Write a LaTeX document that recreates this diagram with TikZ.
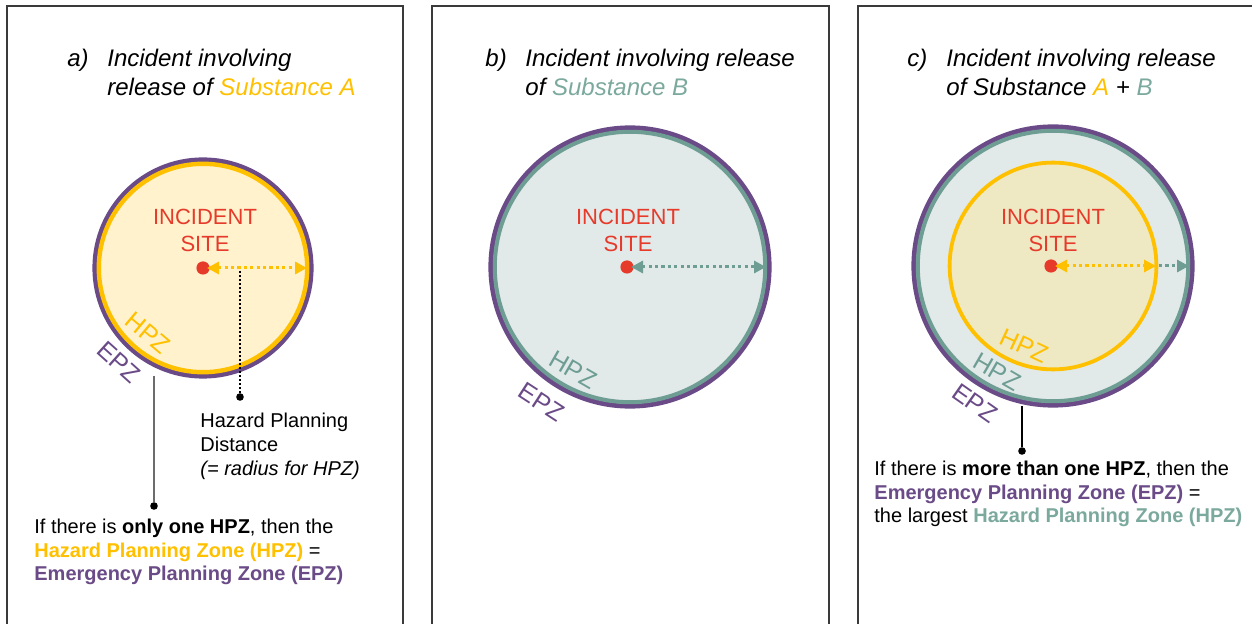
\documentclass[tikz,border=0pt]{standalone}
\usepackage{fontspec}
\setmainfont{Liberation Sans}
\usetikzlibrary{arrows.meta}
\definecolor{epz}{HTML}{6A4B87}
\definecolor{hpzA}{HTML}{FFC000}
\definecolor{hpzB}{HTML}{6E9D93}
\definecolor{txtB}{HTML}{7BA99D}
\definecolor{site}{HTML}{E63A2B}
\definecolor{fillA}{HTML}{FFF2CC}
\definecolor{fillB}{HTML}{E1EAE8}
\definecolor{fillC}{HTML}{EEE8C3}
\definecolor{frame}{HTML}{3A3A3A}
\begin{document}
\begin{tikzpicture}[x=0.5pt,y=-0.5pt,
  title/.style={anchor=base west,inner sep=0pt,font=\fontsize{12}{14}\selectfont\itshape},
  sitetxt/.style={anchor=base,inner sep=0pt,text=site,font=\fontsize{11}{13}\selectfont},
  body/.style={anchor=base west,inner sep=0pt,font=\fontsize{10}{12}\selectfont},
  zone/.style={inner sep=0pt,font=\fontsize{12.5}{14}\selectfont},
  paneframe/.style={draw=frame,line width=0.6pt},
  sitedot/.style={circle,fill=site,inner sep=0pt,minimum size=6.6pt},
  leaddot/.style={circle,fill=black,inner sep=0pt,minimum size=3.8pt},
  yarrow/.style={draw=hpzA,line width=1.5pt,dash pattern=on 1.6pt off 1.6pt,{Triangle[length=6pt,width=6pt]}-{Triangle[length=6pt,width=6pt]}},
  tarrow/.style={draw=hpzB,line width=1.5pt,dash pattern=on 1.6pt off 1.6pt,{Triangle[length=6pt,width=6pt]}-{Triangle[length=6pt,width=6pt]}},
  tarrowend/.style={draw=hpzB,line width=1.5pt,dash pattern=on 1.6pt off 1.6pt,-{Triangle[length=6pt,width=6pt]}},
]
\useasboundingbox (0,0) rectangle (1252,624);
\fill[white] (0,0) rectangle (1252,624);

% frames
\draw[paneframe] (7,630) -- (7,6) -- (403,6) -- (403,630);
\draw[paneframe] (432,630) -- (432,6) -- (829,6) -- (829,630);
\draw[paneframe] (858,630) -- (858,6) -- (1256,6);

% ---------------- panel a ----------------
\node[title] (ta1) at (67,67) {a)};
\node[title] (ta2) at (107,67) {Incident involving};
\node[title] (ta3) at (107,96) {release of \textcolor{hpzA}{Substance A}};

\fill[fillA] (203,268) circle[radius=54pt];
\draw[epz,line width=2.4pt] (203,268) circle[radius=54.1pt];
\draw[hpzA,line width=2.2pt] (203,268) circle[radius=52.1pt];

\node[sitetxt] (sa1) at (205,225) {INCIDENT};
\node[sitetxt] (sa2) at (205,252) {SITE};
\node[sitedot] (ca) at (203,268) {};
\coordinate (aa1) at (207,268);
\coordinate (aa2) at (307,268);
\draw[yarrow] (aa1) -- (aa2);

\node[zone,text=hpzA,rotate=-40] (za1) at (148,333) {HPZ};
\node[zone,text=epz,rotate=-42] (za2) at (119,362) {EPZ};

\coordinate (hda) at (240,271);
\node[leaddot] (hdd) at (240,397) {};
\draw[line width=0.6pt,dash pattern=on 1pt off 1pt] (hda) -- (hdd);
\node[body] (hp1) at (200,428) {Hazard Planning};
\node[body] (hp2) at (200,452) {Distance};
\node[body] (hp3) at (200,476) {\itshape (= radius for HPZ)};

\coordinate (ea) at (154,376);
\node[leaddot] (eda) at (154,506) {};
\draw[draw=gray!85!black,line width=0.8pt] (ea) -- (eda);
\node[body] (ba1) at (34,533) {If there is \textbf{only one HPZ}, then the};
\node[body] (ba2) at (34,557) {\textbf{\textcolor{hpzA}{Hazard Planning Zone (HPZ)}} =};
\node[body] (ba3) at (34,580) {\textbf{\textcolor{epz}{Emergency Planning Zone (EPZ)}}};

% ---------------- panel b ----------------
\node[title] (tb1) at (485,67) {b)};
\node[title] (tb2) at (525,67) {Incident involving release};
\node[title] (tb3) at (525,96) {of \textcolor{txtB}{Substance B}};

\fill[fillB] (630,267) circle[radius=70pt];
\draw[epz,line width=2.4pt] (630,267) circle[radius=69.6pt];
\draw[hpzB,line width=2pt] (630,267) circle[radius=67.6pt];

\node[sitetxt] (sb1) at (628,225) {INCIDENT};
\node[sitetxt] (sb2) at (628,252) {SITE};
\node[sitedot] (cb) at (627,267) {};
\coordinate (ab1) at (631,267);
\coordinate (ab2) at (766,267);
\draw[tarrow] (ab1) -- (ab2);

\node[zone,text=hpzB,rotate=-30] (zb1) at (573,370) {HPZ};
\node[zone,text=epz,rotate=-33] (zb2) at (542,402) {EPZ};

% ---------------- panel c ----------------
\node[title] (tc1) at (907,67) {c)};
\node[title] (tc2) at (946,67) {Incident involving release};
\node[title] (tc3) at (946,96) {of Substance \textcolor{hpzA}{A} + \textcolor{txtB}{B}};

\fill[fillB] (1053,266) circle[radius=70pt];
\draw[epz,line width=2.4pt] (1053,266) circle[radius=69.6pt];
\draw[hpzB,line width=2pt] (1053,266) circle[radius=67.6pt];
\fill[fillC] (1053,266) circle[radius=51.5pt];
\draw[hpzA,line width=1.9pt] (1053,266) circle[radius=51.7pt];

\node[sitetxt] (sc1) at (1053,225) {INCIDENT};
\node[sitetxt] (sc2) at (1053,252) {SITE};
\node[sitedot] (cc) at (1051,266) {};
\coordinate (ac1) at (1055,266);
\coordinate (ac2) at (1156,266);
\coordinate (ac3) at (1159,266);
\coordinate (ac4) at (1189,266);
\draw[tarrowend] (ac3) -- (ac4);
\draw[yarrow] (ac1) -- (ac2);

\node[zone,text=hpzA,rotate=-25] (zc1) at (1024,346) {HPZ};
\node[zone,text=hpzB,rotate=-30] (zc2) at (997,372) {HPZ};
\node[zone,text=epz,rotate=-35] (zc3) at (975,403) {EPZ};

\coordinate (ec) at (1022,406);
\node[leaddot] (edc) at (1022,451) {};
\draw[line width=0.6pt] (ec) -- (edc);
\node[body] (bc1) at (874,476) {If there is \textbf{more than one HPZ}, then the};
\node[body] (bc2) at (874,500) {\textbf{\textcolor{epz}{Emergency Planning Zone (EPZ)}} =};
\node[body] (bc3) at (874,523) {the largest \textbf{\textcolor{txtB}{Hazard Planning Zone (HPZ)}}};
\end{tikzpicture}
\end{document}
